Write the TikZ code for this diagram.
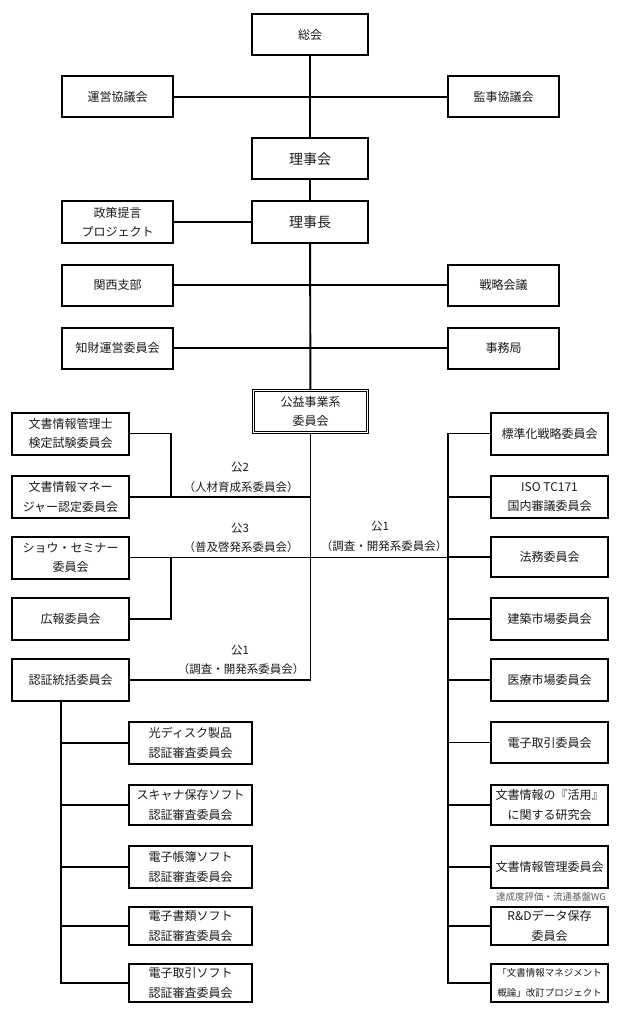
\documentclass[tikz,border=0pt]{standalone}
\usepackage{fontspec}
\newfontfamily\jp{Noto Sans CJK JP}
\begin{document}
\begin{tikzpicture}[x=1pt,y=-1pt,
  box/.style={draw,line width=2pt,inner sep=0pt,align=center,font=\jp\fontsize{12}{19.5}\selectfont,text=black!90},
  topbox/.style={box,minimum width=116pt,minimum height=41pt},
  bigbox/.style={topbox,font=\jp\fontsize{14}{19.5}\selectfont},
  sidebox/.style={box,minimum width=111pt,minimum height=41pt},
  colbox/.style={box,minimum width=117pt,minimum height=42pt},
  subbox/.style={box,minimum width=123pt},
  conn/.style={line width=1.9pt,line cap=rect},
  thinline/.style={line width=0.9pt},
  lab/.style={font=\jp\fontsize{11.5}{14}\selectfont,inner sep=0pt,text=black!90},
]
\useasboundingbox (0,0) rectangle (630,1016);

% top part
\node[topbox] (sokai) at (310,34.5) {総会};
\node[sidebox] (unei) at (117.5,97) {運営協議会};
\node[sidebox] (kanji) at (503.5,97) {監事協議会};
\node[bigbox] (rijikai) at (310,159) {理事会};
\node[sidebox] (seisaku) at (117.5,222) {政策提言\\プロジェクト};
\node[bigbox] (richo) at (310,222) {理事長};
\node[sidebox] (kansai) at (117.5,285) {関西支部};
\node[sidebox] (senryaku) at (503.5,285) {戦略会議};
\node[sidebox] (chizai) at (117.5,348) {知財運営委員会};
\node[sidebox] (jimu) at (503.5,348) {事務局};
\node[thinline,draw,minimum width=116pt,minimum height=44pt,inner sep=0pt,align=center,font=\jp\fontsize{12}{19.5}\selectfont,text=black!90] (koeki) at (310.5,411.5) {公益事業系\\委員会};
\draw[thinline] ([shift={(2.6,2.6)}]koeki.north west) rectangle ([shift={(-2.6,-2.6)}]koeki.south east);

% left column
\node[colbox] (kanrishi) at (70.5,433.5) {文書情報管理士\\検定試験委員会};
\node[colbox] (manager) at (70.5,497) {文書情報マネー\\ジャー認定委員会};
\node[colbox] (show) at (70.5,557.5) {ショウ・セミナー\\委員会};
\node[colbox] (koho) at (70.5,619) {広報委員会};
\node[colbox] (ninsho) at (70.5,680) {認証統括委員会};

% right column
\node[colbox] (hyojun) at (549.5,433.5) {標準化戦略委員会};
\node[colbox] (iso) at (549.5,497) {ISO TC171\\国内審議委員会};
\node[colbox,minimum height=40pt] (homu) at (549.5,557) {法務委員会};
\node[colbox] (kenchiku) at (549.5,619) {建築市場委員会};
\node[colbox] (iryo) at (549.5,680) {医療市場委員会};
\node[colbox,minimum height=41pt] (denshi) at (549.5,742.5) {電子取引委員会};
\node[colbox,minimum height=40pt] (katsuyo) at (549.5,805) {文書情報の『活用』\\に関する研究会};
\node[colbox] (kanri) at (549.5,867) {文書情報管理委員会};
\node[colbox,minimum height=38pt] (rd) at (549.5,926) {R\&Dデータ保存\\委員会};
\node[colbox,minimum height=38pt,font=\jp\fontsize{9.5}{19.5}\selectfont] (kaitei) at (549.5,983) {「文書情報マネジメント\\概論」改訂プロジェクト};
\node[inner sep=0pt,font=\jp\fontsize{9.5}{10}\selectfont,text=black!65] (wg) at (551,897) {達成度評価・流通基盤WG};

% certification sub-committees
\node[subbox,minimum height=42pt] (hikari) at (190.5,743) {光ディスク製品\\認証審査委員会};
\node[subbox,minimum height=40pt] (scanner) at (190.5,805) {スキャナ保存ソフト\\認証審査委員会};
\node[subbox,minimum height=42pt] (choubo) at (190.5,867) {電子帳簿ソフト\\認証審査委員会};
\node[subbox,minimum height=38pt] (shorui) at (190.5,926) {電子書類ソフト\\認証審査委員会};
\node[subbox,minimum height=38pt] (torihiki) at (190.5,983) {電子取引ソフト\\認証審査委員会};

% labels
\node[lab] (k2a) at (240,467) {公2};
\node[lab] (k2b) at (241,487) {（人材育成系委員会）};
\node[lab] (k3a) at (240,528) {公3};
\node[lab] (k3b) at (241,547) {（普及啓発系委員会）};
\node[lab] (k1a) at (240,650) {公1};
\node[lab] (k1b) at (241,669) {（調査・開発系委員会）};
\node[lab] (k1c) at (380,526) {公1};
\node[lab] (k1d) at (384,546) {（調査・開発系委員会）};

% connectors
\coordinate (lj) at (171,0);
\coordinate (rt) at (448,0);
\coordinate (lt) at (61,0);
\draw[conn] (sokai) -- (rijikai);
\draw[conn] (unei) -- (kanji);
\draw[conn] (rijikai) -- (richo);
\draw[conn] (seisaku) -- (richo);
\draw[conn] (richo) -- (koeki);
\draw[conn] (kansai) -- (senryaku);
\draw[conn] (chizai) -- (jimu);
\draw[conn] (koeki.south) |- (ninsho.east);
\draw[conn] (manager.east) -- (manager.east -| koeki.south);
\draw[conn] (kanrishi.east) -| (manager.east -| lj);
\draw[conn] (show.east) -- (show.east -| rt);
\draw[conn] (koho.east) -| (show.east -| lj);
\draw[conn] (hyojun.west -| rt) -- (kaitei.west -| rt);
\foreach \n in {hyojun,iso,homu,kenchiku,iryo,denshi,katsuyo,kanri,rd,kaitei}
  \draw[conn] (\n.west) -- (\n.west -| rt);
\draw[conn] (ninsho.south -| lt) -- (torihiki.west -| lt);
\foreach \n in {hikari,scanner,choubo,shorui,torihiki}
  \draw[conn] (\n.west) -- (\n.west -| lt);
\end{tikzpicture}
\end{document}
